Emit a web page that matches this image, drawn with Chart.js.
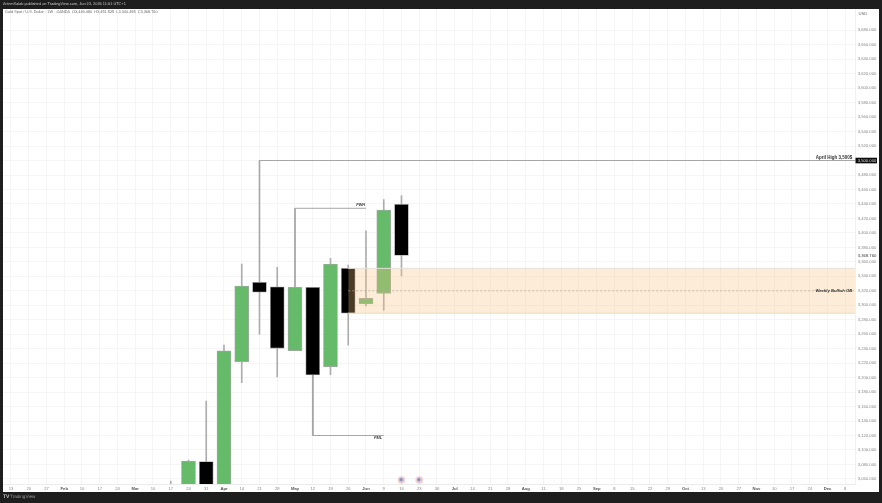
<!DOCTYPE html>
<html>
<head>
<meta charset="utf-8">
<title>Gold Spot / U.S. Dollar</title>
<script src="https://cdn.jsdelivr.net/npm/chart.js@4/dist/chart.umd.min.js"></script>
<style>
  html, body { margin: 0; padding: 0; width: 882px; height: 503px; overflow: hidden; background: #1e1e1e; }
  body { font-family: "Liberation Sans", Arial, sans-serif; text-rendering: geometricPrecision; }
  #pane { position: absolute; left: 3px; top: 8.5px; width: 876px; height: 483.5px; background: #fff; }
  #chart { position: absolute; left: 0; top: 0; }
  .txt { position: absolute; white-space: nowrap; line-height: 1; }
  #published { left: 3px; top: 2.4px; font-size: 3.9px; color: #c8c8c8; }
  #legend { left: 5px; top: 11px; font-size: 3.85px; color: #666; }
  #logo { left: 3px; top: 495px; font-size: 5px; font-weight: bold; color: #c8c8c8; }
  #brand { left: 10px; top: 495.4px; font-size: 4.6px; color: #999; }
</style>
</head>
<body>
<div id="pane"></div>
<canvas id="chart" width="882" height="503"></canvas>
<div class="txt" id="published">ArtemSalab published on TradingView.com, Jun 23, 2025 11:51 UTC+1</div>
<div class="txt" id="legend">Gold Spot / U.S. Dollar · 1W · OANDA &nbsp;O3,449.480 &nbsp;H3,451.525 &nbsp;L3,340.495 &nbsp;C3,368.760</div>
<div class="txt" id="logo">TV</div>
<div class="txt" id="brand">TradingView</div>
<script>
// weekly axis labels, one per candle slot
const weekLabels = ["13", "20", "27", "Feb", "10", "17", "24", "Mar", "10", "17", "24", "31", "Apr", "14", "21", "28",
    "May", "12", "19", "26", "Jun", "9", "16", "23", "30", "Jul", "14", "21", "28", "Aug", "11", "18", "25",
    "Sep", "8", "15", "22", "29", "Oct", "13", "20", "27", "Nov", "10", "17", "24", "Dec", "8"]
const monthLabels = ["Feb", "Mar", "Apr", "May", "Jun", "Jul", "Aug", "Sep", "Oct", "Nov", "Dec"]

// candles
const candleSlots = [9, 10, 11, 12, 13, 14, 15, 16, 17, 18, 19, 20, 21, 22]
const opens = [2985, 3022, 3084, 3037, 3222, 3331.7, 3325.6, 3237.2, 3324.8, 3215, 3351, 3302, 3316.5, 3439.5]
const highs = [3057, 3086, 3167.6, 3245, 3357, 3500, 3352.4, 3434, 3324.8, 3364.9, 3355.6, 3403, 3446, 3451.5]
const lows = [2980, 3000, 2990, 2970, 3193, 3260, 3201, 3237.2, 3120, 3204, 3245, 3299, 3293, 3340.5]
const closes = [3022, 3084.7, 3037, 3237, 3326.6, 3318, 3240.5, 3324.8, 3203.6, 3357, 3289, 3309.6, 3431.6, 3368.76]

const priceTicks = [3060, 3080, 3100, 3120, 3140, 3160, 3180, 3200, 3220, 3240, 3260, 3280, 3300, 3320, 3340, 3360,
    3380, 3400, 3420, 3440, 3460, 3480, 3500, 3520, 3540, 3560, 3580, 3600, 3620, 3640, 3660, 3680]
const lastPrice = 3368.76

// drawings on the chart
const aprilHighXs = [14, 14, 47.55]
const aprilHighYs = [3331.7, 3500, 3500]
const pwhXs = [16, 16, 20]
const pwhYs = [3324.8, 3434, 3434]
const pmlXs = [17, 17, 21]
const pmlYs = [3203.6, 3120, 3120]
const zoneXs = [19, 47.55]
const zoneTop = [3351, 3351]
const zoneBottom = [3289, 3289]
const zoneMiddle = [3320, 3320]
const flagSlots = [22, 23]

const xMin = -0.45
const xMax = 47.55
const yMin = 3053
const yMax = 3709.4

const points = (xs, ys) => xs.map((x, i) => ({ x: x, y: ys[i] }))
const gridColor = "#f5f5f7"
const wickColor = "#adadad"
const lineColor = "#a6a6a6"
const bodyBorder = "#a8a8a8"
const sans = '"Liberation Sans", Arial, sans-serif'

const drawingLine = (xs, ys) => ({
    type: 'line',
    data: points(xs, ys),
    borderColor: lineColor,
    borderWidth: 1,
    pointRadius: 0,
    fill: false,
    order: 1,
})

const formatPrice = (v) => v.toLocaleString('en-US', { minimumFractionDigits: 3, maximumFractionDigits: 3 })
const isMonth = (c) => c.tick && monthLabels.includes(weekLabels[c.tick.value])
const isLast = (c) => c.tick && c.tick.value === lastPrice

const notesPlugin = {
    id: 'notes',
    afterDatasetsDraw(chart) {
        const ctx = chart.ctx
        const x = chart.scales.x
        const y = chart.scales.y
        ctx.save()
        ctx.textBaseline = 'middle'

        ctx.fillStyle = '#333'
        ctx.textAlign = 'right'
        ctx.font = 'bold 4.5px ' + sans
        ctx.fillText('April High 3,500$', x.getPixelForValue(47.4), y.getPixelForValue(3504.5))
        ctx.font = 'italic bold 4.2px ' + sans
        ctx.fillText('Weekly Bullish OB', x.getPixelForValue(47.4), y.getPixelForValue(3320))
        ctx.font = 'italic bold 3.8px ' + sans
        ctx.fillText('PWH', x.getPixelForValue(19.95), y.getPixelForValue(3438))
        ctx.fillText('PML', x.getPixelForValue(20.9), y.getPixelForValue(3116))

        // price tag on the right axis
        const tagY = y.getPixelForValue(3500)
        ctx.fillStyle = '#0b0b0b'
        ctx.fillRect(855.5, tagY - 2.8, 21.5, 5.6)
        ctx.fillStyle = '#ddd'
        ctx.textAlign = 'left'
        ctx.font = '4.2px ' + sans
        ctx.fillText(formatPrice(3500), 857.7, tagY + 0.2)

        ctx.fillStyle = '#666'
        ctx.font = '4.2px ' + sans
        ctx.fillText('USD', 858.5, 13.5)

        for (const slot of flagSlots) {
            const fx = x.getPixelForValue(slot)
            ctx.beginPath()
            ctx.arc(fx, 480, 4, 0, Math.PI * 2)
            ctx.fillStyle = 'rgba(240,150,150,0.35)'
            ctx.fill()
            ctx.beginPath()
            ctx.arc(fx, 480, 2.7, 0, Math.PI * 2)
            ctx.fillStyle = '#dcc2cc'
            ctx.fill()
            ctx.beginPath()
            ctx.arc(fx - 0.4, 479.6, 1.6, 0, Math.PI * 2)
            ctx.fillStyle = '#7f93c6'
            ctx.fill()
        }
        ctx.restore()
    }
}

new Chart(document.getElementById('chart'), {
    type: 'bar',
    data: {
        datasets: [
            {
                // wicks
                data: candleSlots.map((slot, i) => ({ x: slot, y: [lows[i], highs[i]] })),
                backgroundColor: wickColor,
                barThickness: 1,
                grouped: false,
                order: 5,
            },
            {
                // bodies
                data: candleSlots.map((slot, i) => ({ x: slot, y: [opens[i], closes[i]] })),
                backgroundColor: (c) => closes[c.dataIndex] >= opens[c.dataIndex] ? '#66bb6a' : '#000000',
                borderColor: bodyBorder,
                borderWidth: 0.8,
                borderSkipped: false,
                barThickness: 14,
                grouped: false,
                order: 4,
            },
            {
                type: 'line',
                data: points(zoneXs, zoneTop),
                borderColor: '#e6e0d8',
                borderWidth: 1,
                pointRadius: 0,
                backgroundColor: 'rgba(247,193,123,0.3)',
                fill: '+1',
                order: 2,
            },
            {
                type: 'line',
                data: points(zoneXs, zoneBottom),
                borderColor: '#e6e0d8',
                borderWidth: 1,
                pointRadius: 0,
                fill: false,
                order: 2,
            },
            {
                type: 'line',
                data: points(zoneXs, zoneMiddle),
                borderColor: '#b0a69a',
                borderWidth: 0.7,
                borderDash: [2, 2],
                pointRadius: 0,
                fill: false,
                order: 1,
            },
            drawingLine(aprilHighXs, aprilHighYs),
            drawingLine(pwhXs, pwhYs),
            drawingLine(pmlXs, pmlYs),
        ]
    },
    options: {
        responsive: false,
        animation: false,
        layout: { padding: { left: 3, right: 3, top: 9, bottom: 11 } },
        plugins: { legend: { display: false }, tooltip: { enabled: false } },
        scales: {
            x: {
                type: 'linear',
                offset: false,
                min: xMin,
                max: xMax,
                grid: {
                    offset: false,
                    color: gridColor,
                    lineWidth: 1,
                    drawTicks: false,
                },
                border: { color: '#ececec' },
                afterBuildTicks: (scale) => {
                    scale.ticks = weekLabels.map((_, i) => ({ value: i }))
                },
                afterFit: (scale) => {
                    scale.height = 8
                },
                ticks: {
                    autoSkip: false,
                    maxRotation: 0,
                    padding: 2,
                    callback: (v) => weekLabels[v],
                    color: (c) => isMonth(c) ? '#555' : '#888',
                    font: (c) => ({ family: sans, size: 4.2, weight: isMonth(c) ? 'bold' : 'normal' }),
                },
            },
            y: {
                position: 'right',
                min: yMin,
                max: yMax,
                grid: {
                    color: (c) => isLast(c) ? 'rgba(0,0,0,0)' : gridColor,
                    lineWidth: 1,
                    drawTicks: false,
                },
                border: { color: '#f0f0f0' },
                afterBuildTicks: (scale) => {
                    scale.ticks = priceTicks.concat([lastPrice]).map((v) => ({ value: v }))
                },
                afterFit: (scale) => {
                    scale.width = 24
                },
                ticks: {
                    autoSkip: false,
                    padding: 2.7,
                    callback: (v) => formatPrice(v),
                    color: (c) => isLast(c) ? '#333' : '#888',
                    font: { family: sans, size: 4.2 },
                },
            },
        },
    },
    plugins: [notesPlugin],
})
</script>
</body>
</html>
